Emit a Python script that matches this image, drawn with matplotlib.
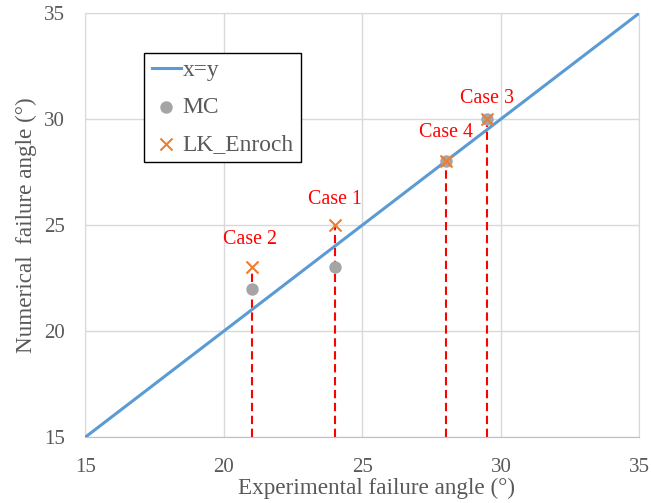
import matplotlib
matplotlib.use('Agg')
from matplotlib import pyplot as plt

# Experimental vs numerical failure angles (degrees), Cases 1..4
cases = ['Case 1', 'Case 2', 'Case 3', 'Case 4']
experimental = [24, 21, 29.5, 28]
mc = [23, 22, 30, 28]
lk_enroch = [25, 23, 30, 28]
diag = [15, 35]
ticks = [15, 20, 25, 30, 35]

TEXT = '#595959'
GRID = '#D9D9D9'

plt.rcParams['font.family'] = ['Liberation Serif', 'DejaVu Serif']

fig = plt.figure(figsize=(6.51, 5.03), dpi=100)
ax = fig.add_axes([0.1313, 0.1312, 0.8510, 0.8430])

ax.plot(diag, diag, color='#5B9BD5', lw=2.2, label='x=y', zorder=3)
ax.vlines(experimental, 15, lk_enroch, colors='#FF0000', linestyles=(0, (4, 2.2)), lw=1.5, zorder=2)
ax.scatter(experimental, mc, s=63, color='#A5A5A5', label='MC', zorder=4)
ax.scatter(experimental, lk_enroch, s=75, marker='x', color='#ED7D31', lw=1.5, label='LK_Enroch', zorder=5)

# label offsets in points above the LK marker
offsets = {'Case 1': (0, 18), 'Case 2': (-1, 20), 'Case 3': (0, 14.5), 'Case 4': (0, 21)}
for name, x, y in zip(cases, experimental, lk_enroch):
    ax.annotate(name, (x, y), xytext=offsets[name], textcoords='offset points',
                ha='center', va='center', color='#FF0000', fontsize=14.4)

ax.set_xlim(15, 35)
ax.set_ylim(15, 35)
ax.set_xticks(ticks)
ax.set_yticks(ticks)
ax.grid(True, color=GRID, lw=1)
ax.set_axisbelow(True)
for side in ['top', 'right', 'left']:
    ax.spines[side].set_color(GRID)
ax.spines['bottom'].set_color('#BFBFBF')
ax.tick_params(length=0, labelsize=15, colors=TEXT)
ax.tick_params(axis='x', pad=15)
ax.tick_params(axis='y', pad=15)

ax.set_xlabel('Experimental failure angle (°)', fontsize=16.7, color=TEXT)
ax.xaxis.set_label_coords(0.525, -0.097)
ax.set_ylabel('Numerical  failure angle (°)', fontsize=16.7, color=TEXT)
ax.yaxis.set_label_coords(-0.088, 0.5)

leg = ax.legend(loc='upper left', bbox_to_anchor=(0.1065, 0.9057), borderaxespad=0,
                fontsize=16.9, frameon=True, fancybox=False, edgecolor='black',
                handlelength=1.27, handletextpad=0.05, borderpad=0.3, labelspacing=0.65,
                framealpha=1)
leg.get_frame().set_linewidth(1.0)
for t in leg.get_texts():
    t.set_color(TEXT)

plt.savefig('out.png', dpi=100)
